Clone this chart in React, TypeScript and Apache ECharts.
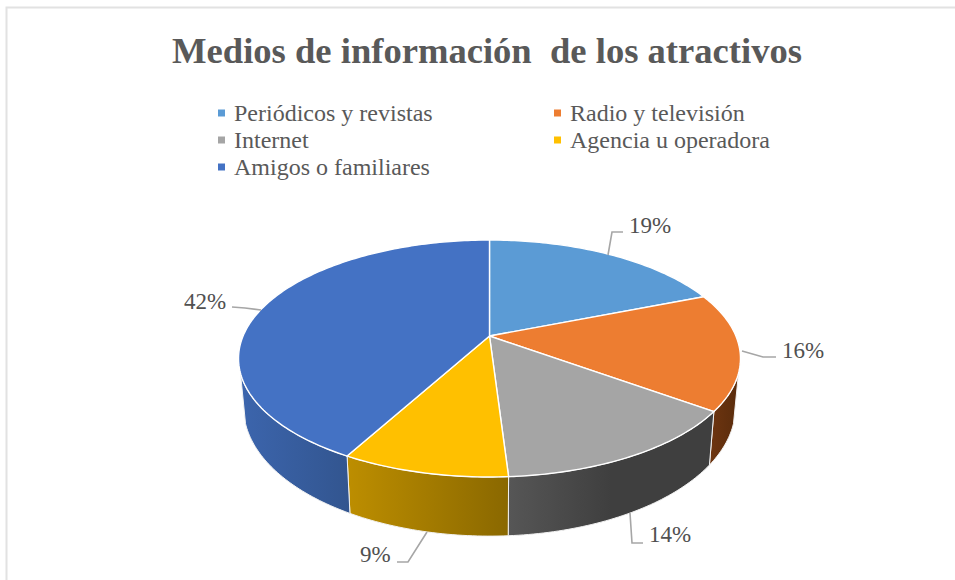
import React, { useEffect, useRef } from "react";
import * as echarts from "echarts";

const titleText = "Medios de información  de los atractivos";
const categories = ["Periódicos y revistas", "Radio y televisión", "Internet", "Agencia u operadora", "Amigos o familiares"];
const shares = [19, 16, 14, 9, 42];
const topColors = ["#5B9BD5", "#ED7D31", "#A5A5A5", "#FFC000", "#4472C4"];
const wallLeftColors = ["#3b6a94", "#6e3510", "#565656", "#bd8e00", "#3c65ad"];
const wallRightColors = ["#2f5577", "#5a2c0c", "#3f3f3f", "#8a6800", "#32558f"];
const legendLefts = [218, 554, 218, 554, 218];
const legendTops = [101, 101, 128, 128, 155];
const labelTexts = ["19%", "16%", "14%", "9%", "42%"];
const labelPositions = [[629, 225], [782, 350], [649, 534], [360, 554], [184, 301]];
const leaderPaths = [
  [[608, 255], [612, 232], [623, 232]],
  [[742, 351], [763, 357], [776, 357]],
  [[630, 513], [632, 543], [643, 543]],
  [[427, 532], [408, 562], [397, 562]],
  [[261, 310], [245, 308], [232, 307]],
];

const CX = 489.5, CY = 336, BX = 246.4, AY = 114.2, PERSP = 0.19;
const BOTTOM_SCALE_X = 0.98, BOTTOM_SCALE_Y = 1.086, BOTTOM_SHIFT = 47;
// rim angles between which the outer wall shows
const FRONT_START = (108 * Math.PI) / 180;
const FRONT_END = Math.PI * 2 - FRONT_START;

function rim(angle: number): [number, number] {
  const u = Math.sin(angle), v = -Math.cos(angle);
  const d = 1 - PERSP * v;
  return [(BX * u) / d, (AY * v) / d];
}

function arcPoints(a0: number, a1: number, lower = false) {
  const n = Math.max(2, Math.ceil(((a1 - a0) * 180) / Math.PI));
  const pts: number[][] = [];
  for (let i = 0; i <= n; i++) {
    const p = rim(a0 + ((a1 - a0) * i) / n);
    pts.push(
      lower
        ? [CX + p[0] * BOTTOM_SCALE_X, CY + p[1] * BOTTOM_SCALE_Y + BOTTOM_SHIFT]
        : [CX + p[0], CY + p[1]],
    );
  }
  return pts;
}

const total = shares.reduce((a, b) => a + b, 0);

function makeSeries(i: number) {
  const before = shares.slice(0, i).reduce((a, b) => a + b, 0);
  const a0 = (before / total) * Math.PI * 2;
  const a1 = ((before + shares[i]) / total) * Math.PI * 2;
  return {
    type: "custom",
    name: categories[i],
    coordinateSystem: "none",
    silent: true,
    itemStyle: { color: topColors[i] },
    data: [shares[i]],
    z: 2,
    renderItem: () => {
      const children: any[] = [];
      const frontStart = Math.max(a0, FRONT_START);
      const frontEnd = Math.min(a1, FRONT_END);
      if (frontEnd > frontStart) {
        const top = arcPoints(frontStart, frontEnd);
        const bottom = arcPoints(frontStart, frontEnd, true).reverse();
        children.push({
          type: "polygon",
          shape: { points: top.concat(bottom) },
          style: {
            fill: new echarts.graphic.LinearGradient(0, 0, 1, 0, [
              { offset: 0, color: wallLeftColors[i] },
              { offset: i === 2 ? 0.5 : 1, color: wallRightColors[i] },
              { offset: 1, color: wallRightColors[i] },
            ]),
            stroke: "#f2f2f2",
            lineWidth: 1,
          },
        });
      }
      children.push({
        type: "polygon",
        shape: { points: [[CX, CY], ...arcPoints(a0, a1)] },
        style: { fill: topColors[i], stroke: "#ffffff", lineWidth: 1.4 },
        z2: 5,
      });
      return { type: "group", children };
    },
  };
}

export default function App() {
  const ref = useRef<HTMLDivElement>(null);
  useEffect(() => {
    const chart = echarts.init(ref.current!, undefined, { renderer: "svg" });
    const serif = "'Liberation Serif', serif";
    chart.setOption({
      animation: false,
      backgroundColor: "#ffffff",
      title: {
        text: titleText,
        left: 482,
        top: 27,
        textAlign: "center",
        textStyle: { fontFamily: serif, fontSize: 36.6, fontWeight: "bold", color: "#595959" },
      },
      legend: categories.map((c, i) => ({
        show: true,
        data: [c],
        left: legendLefts[i],
        top: legendTops[i],
        icon: "rect",
        itemWidth: 7,
        itemHeight: 7,
        itemGap: 0,
        padding: 0,
        selectedMode: false,
        textStyle: { fontFamily: serif, fontSize: 24, color: "#595959", padding: [0, 0, 0, 4] },
      })),
      graphic: [
        {
          type: "polyline",
          silent: true,
          shape: { points: [[6.5, 580], [6.5, 7.5], [955, 7.5]] },
          style: { stroke: "#e2e2e2", lineWidth: 2, fill: "none" },
        },
        ...leaderPaths.map((p) => ({
          type: "polyline",
          silent: true,
          z: 3,
          shape: { points: p },
          style: { stroke: "#a6a6a6", lineWidth: 1.6, fill: "none" },
        })),
        ...labelTexts.map((t, i) => ({
          type: "text",
          silent: true,
          z: 3,
          x: labelPositions[i][0],
          y: labelPositions[i][1],
          style: {
            text: t,
            textAlign: "left",
            textVerticalAlign: "middle",
            fontFamily: serif,
            fontSize: 23,
            fill: "#505050",
          },
        })),
      ],
      series: categories.map((_, i) => makeSeries(i)),
    });
    return () => chart.dispose();
  }, []);
  return <div ref={ref} style={{ position: "absolute", left: 0, top: 0, width: 955, height: 580 }} />;
}
